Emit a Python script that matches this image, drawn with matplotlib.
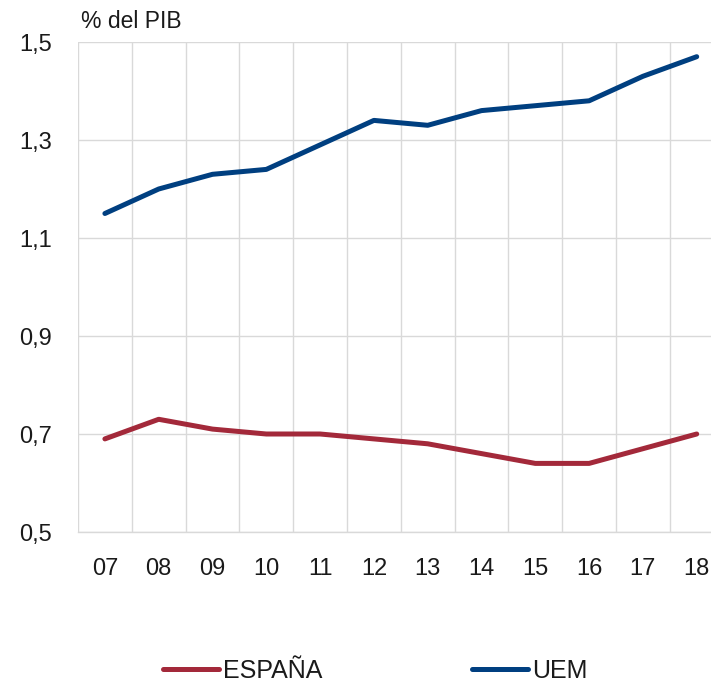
import matplotlib
matplotlib.use("Agg")
import matplotlib.pyplot as plt
from matplotlib.ticker import FixedLocator

years = ["07", "08", "09", "10", "11", "12", "13", "14", "15", "16", "17", "18"]
espana = [0.69, 0.73, 0.71, 0.70, 0.70, 0.69, 0.68, 0.66, 0.64, 0.64, 0.67, 0.70]
uem = [1.15, 1.20, 1.23, 1.24, 1.29, 1.34, 1.33, 1.36, 1.37, 1.38, 1.43, 1.47]
yticks = [0.5, 0.7, 0.9, 1.1, 1.3, 1.5]
ytick_labels = ["0,5", "0,7", "0,9", "1,1", "1,3", "1,5"]

plt.rcParams['font.family'] = ['Liberation Sans', 'DejaVu Sans']
W, H = 711, 682
fig = plt.figure(figsize=(W / 100, H / 100), dpi=100)
left, right, top, bottom = 78, 723.6, 42, 532
ax = fig.add_axes([left / W, 1 - bottom / H, (right - left) / W, (bottom - top) / H])

x = list(range(len(years)))
ax.plot(x, espana, color="#A3293A", lw=3.6, solid_capstyle="round", label="ESPAÑA", zorder=3)
ax.plot(x, uem, color="#003F80", lw=3.6, solid_capstyle="round", label="UEM", zorder=3)

ax.set_xlim(-0.5, len(years) - 0.5)
ax.set_ylim(0.5, 1.5)
ax.set_xticks(x)
ax.set_xticklabels(years)
ax.xaxis.set_minor_locator(FixedLocator([i - 0.5 for i in range(len(years) + 1)]))
ax.set_yticks(yticks)
ax.set_yticklabels(ytick_labels)
ax.grid(which="minor", axis="x", color="#D9D9D9", lw=1.0)
ax.grid(which="major", axis="y", color="#D9D9D9", lw=1.0)
ax.tick_params(which="both", length=0)
ax.tick_params(axis="y", pad=18.5, labelsize=17, labelcolor="#1a1a1a")
ax.tick_params(axis="x", pad=18.5, labelsize=17, labelcolor="#1a1a1a")
for s in ["top", "right", "left"]:
    ax.spines[s].set_visible(False)
ax.spines["bottom"].set_color("#D9D9D9")
ax.spines["bottom"].set_linewidth(1.0)
ax.set_axisbelow(True)

fig.text(81 / W, 1 - 21 / H, "% del PIB", fontsize=16.5, color="#1a1a1a", va="center", ha="left")

fig.legend(loc="center left", bbox_to_anchor=(163 / W, 1 - 671 / H), ncol=2, frameon=False,
           fontsize=18, handlelength=2.24, handletextpad=0.16, columnspacing=6.0,
           borderpad=0, borderaxespad=0, labelcolor="#1a1a1a")

fig.savefig("out.png", dpi=100)
